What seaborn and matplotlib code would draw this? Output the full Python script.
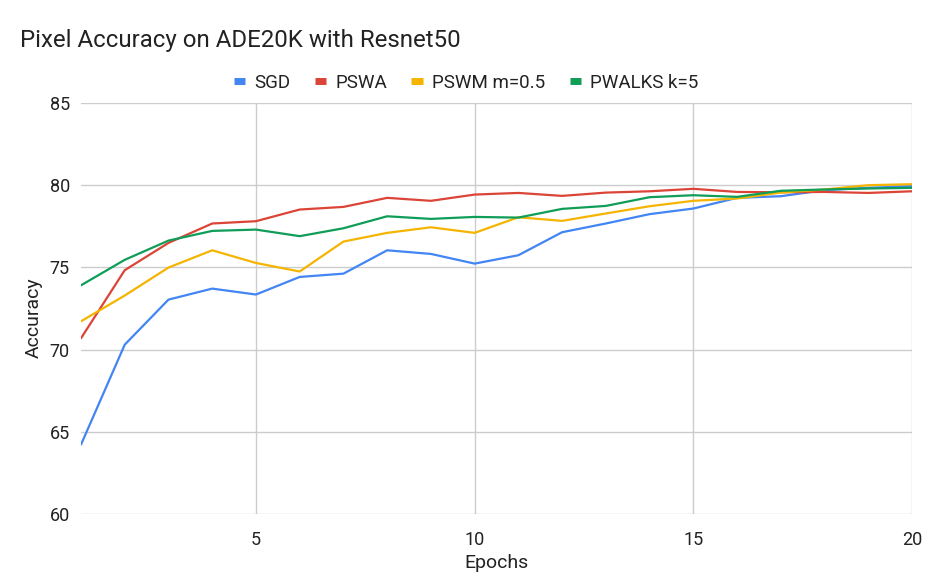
import matplotlib
matplotlib.use("Agg")
import matplotlib.pyplot as plt
import seaborn as sns
import pandas as pd
from matplotlib.lines import Line2D

epochs = list(range(1, 21))
sgd = [64.22, 70.3, 73.04, 73.71, 73.35, 74.42, 74.62, 76.04, 75.82, 75.23,
       75.74, 77.14, 77.67, 78.24, 78.58, 79.23, 79.33, 79.70, 79.84, 79.94]
pswa = [70.69, 74.83, 76.49, 77.67, 77.81, 78.52, 78.68, 79.23, 79.05, 79.43,
        79.53, 79.35, 79.55, 79.63, 79.78, 79.59, 79.57, 79.59, 79.53, 79.63]
pswm = [71.72, 73.29, 74.99, 76.04, 75.27, 74.75, 76.57, 77.10, 77.44, 77.10,
        78.05, 77.83, 78.28, 78.72, 79.05, 79.19, 79.55, 79.74, 80.00, 80.06]
pwalks = [73.91, 75.46, 76.63, 77.22, 77.30, 76.90, 77.38, 78.11, 77.95, 78.07,
          78.03, 78.56, 78.74, 79.27, 79.39, 79.29, 79.66, 79.74, 79.80, 79.84]
series_names = ["SGD", "PSWA", "PSWM m=0.5", "PWALKS k=5"]
colors = ["#4285F4", "#DB4437", "#F4B400", "#0F9D58"]
x_ticks = [5, 10, 15, 20]
y_ticks = [60, 65, 70, 75, 80, 85]

rows = []
for name, vals in zip(series_names, [sgd, pswa, pswm, pwalks]):
    for e, v in zip(epochs, vals):
        rows.append({"Epochs": e, "Accuracy": v, "Series": name})
df = pd.DataFrame(rows)

sns.set_theme(style="white")
plt.rcParams['font.family'] = ['Roboto', 'DejaVu Sans']

fig = plt.figure(figsize=(9.32, 5.76), dpi=100)
ax = fig.add_axes([81/932, 62/576, (912-81)/932, (514-103)/576])

sns.lineplot(data=df, x="Epochs", y="Accuracy", hue="Series",
             hue_order=series_names, palette=colors, linewidth=1.6,
             ax=ax, legend=False)

ax.set_xlim(1, 20)
ax.set_ylim(60, 85)
ax.set_xticks(x_ticks)
ax.set_yticks(y_ticks)
ax.grid(True, color="#cccccc", linewidth=1)
ax.set_axisbelow(True)
for s in ax.spines.values():
    s.set_visible(False)
ax.tick_params(axis="x", length=0, labelsize=13, colors="#222222", pad=12)
ax.tick_params(axis="y", length=0, labelsize=13, colors="#222222", pad=8)
ax.set_xlabel("Epochs", fontsize=14, color="#222222", labelpad=4)
ax.set_ylabel("Accuracy", fontsize=14, color="#222222", labelpad=8)
ax.yaxis.set_label_coords(-0.046, 0.477)

fig.text(20/932, 1 - 40/576, "Pixel Accuracy on ADE20K with Resnet50",
         fontsize=17.3, color="#222222", va="center", ha="left")

handles = [Line2D([0], [0], color=c, linewidth=5, solid_capstyle="butt")
           for c in colors]
fig.legend(handles, series_names, loc="center", bbox_to_anchor=(466/932, 1 - 83/576),
           ncol=4, frameon=False, fontsize=13.5, handlelength=0.6,
           handletextpad=0.5, columnspacing=1.3, labelcolor="#222222")

fig.savefig("out.png", dpi=100)
